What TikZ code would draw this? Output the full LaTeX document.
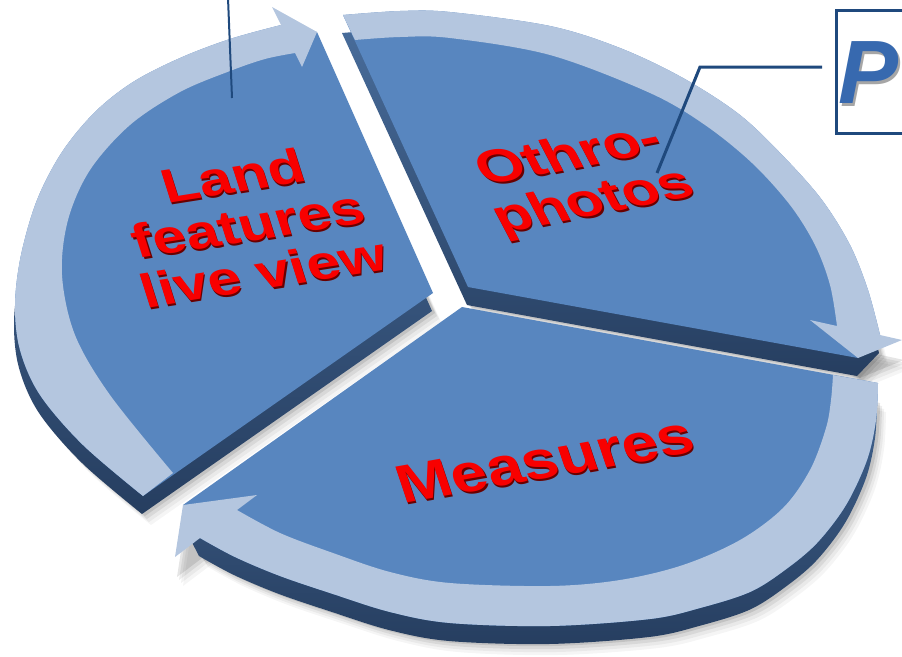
\documentclass[tikz,border=0pt]{standalone}
\usepackage{fontspec}
\newfontfamily\lab{Liberation Sans}
\definecolor{topc}{RGB}{88,134,191}
\definecolor{ringc}{RGB}{180,198,223}
\definecolor{sidetop}{RGB}{72,108,154}
\definecolor{sidebot}{RGB}{38,62,96}
\definecolor{linec}{RGB}{31,73,125}
\definecolor{txtred}{RGB}{248,0,0}
\definecolor{txtsh}{RGB}{105,0,0}
\definecolor{pblue}{RGB}{55,105,175}
% slice shapes (image pixel coordinates, y downwards)
\def\landface{(433,293) -- (143,496) -- plot[smooth,tension=0.55] coordinates {(143,496) (83,445) (40,395) (20,350) (15,305) (21,255) (37,200) (62,152) (95,112) (133,82) (180,58) (230,39) (281,25)} -- (317,32) -- cycle}
\def\landring{(143,496) -- plot[smooth,tension=0.55] coordinates {(143,496) (83,445) (40,395) (20,350) (15,305) (21,255) (37,200) (62,152) (95,112) (133,82) (180,58) (230,39) (281,25)} -- (272,7) -- (317,32) -- (302,67) -- (295,53) -- plot[smooth,tension=0.55] coordinates {(295,53) (265,59) (230,71) (180,92) (130,125) (90,170) (68,220) (62,275) (75,335) (110,395) (173,473)} -- cycle}
\def\othface{(468,287) -- (343,15) -- plot[smooth,tension=0.55] coordinates {(343,15) (400,11) (450,12) (550,26) (620,48) (683,78) (740,115) (785,158) (822,200) (850,245) (868,290) (880,335)} -- (858,358) -- cycle}
\def\othring{(343,15) -- plot[smooth,tension=0.55] coordinates {(343,15) (400,11) (450,12) (550,26) (620,48) (683,78) (740,115) (785,158) (822,200) (850,245) (868,290) (880,335)} -- (902,340) -- (858,358) -- (810,320) -- (837,326) -- plot[smooth,tension=0.55] coordinates {(837,326) (830,285) (815,245) (790,205) (752,163) (705,125) (650,93) (550,55) (450,38) (400,37) (355,40)} -- cycle}
\def\measface{(462,307) -- (878,383) -- plot[smooth,tension=0.55] coordinates {(878,383) (876,420) (867,460) (846,505) (817,543) (785,570) (750,592) (700,608) (650,619) (550,626) (450,623) (390,612) (333,594) (280,576) (235,557) (200,538)} -- (183,505) -- cycle}
\def\measring{(878,383) -- plot[smooth,tension=0.55] coordinates {(878,383) (876,420) (867,460) (846,505) (817,543) (785,570) (750,592) (700,608) (650,619) (550,626) (450,623) (390,612) (333,594) (280,576) (235,557) (200,538)} -- (175,557) -- (183,505) -- (257,495) -- (237,510) -- plot[smooth,tension=0.55] coordinates {(237,510) (280,533) (333,553) (390,572) (450,583) (550,586) (620,580) (683,565) (740,540) (783,508) (810,470) (826,428) (831,400) (833,375)} -- cycle}
\def\othhead{(810,320) -- (902,340) -- (858,358) -- cycle}
\def\meashead{(257,495) -- (183,505) -- (175,557) -- cycle}
\begin{document}
\begin{tikzpicture}[x=1pt,y=-1pt,
  face/.style={fill=topc},
  ringst/.style={fill=ringc},
  sideface/.style={top color=sidetop,bottom color=sidebot,shift={(-1,18)}},
  lbl/.style={font=\lab\bfseries\fontsize{48}{50}\selectfont,text=txtred,align=center,inner sep=0pt},
  lblsh/.style={lbl,text=txtsh},
  callout/.style={draw=linec,line width=3pt},
  thincallout/.style={draw=linec,line width=2pt},
  shadowst/.style={fill=black}]
\useasboundingbox (0,0) rectangle (902,656);
\begin{scope}
\clip (0,0) rectangle (902,656);
% soft shadow
\foreach \dx/\dy/\op in {2/20/0.10,4/23/0.07,6/26/0.05,8/29/0.04}{
  \fill[shadowst,opacity=\op,shift={(\dx,\dy)}] \measface;
  \fill[shadowst,opacity=\op,shift={(\dx,\dy)}] \meashead;
  \fill[shadowst,opacity=\op,shift={(\dx,\dy)}] \landface;
  \fill[shadowst,opacity=\op,shift={(\dx,\dy)}] \othface;
  \fill[shadowst,opacity=\op,shift={(\dx,\dy)}] \othhead;
}
% Measures slice
\path[sideface] \measface;
\fill[face] \measface;
\fill[ringst] \measring;
% Land slice
\path[sideface] \landface;
\fill[face] \landface;
\fill[ringst] \landring;
% Othro slice
\path[sideface] \othface;
\fill[face] \othface;
\fill[ringst] \othring;
% labels (dark relief copy, then red text)
\node[lblsh,rotate=9,xslant=-0.15,xscale=1.25] (landsh) at (249.2,226) {Land\\features\\live view};
\node[lbl,rotate=9,xslant=-0.15,xscale=1.25] (land) at (248,224) {Land\\features\\live view};
\node[lblsh,rotate=11,xslant=-0.3,xscale=1.25] (othsh) at (583.2,182) {Othro-\\photos};
\node[lbl,rotate=11,xslant=-0.3,xscale=1.25] (oth) at (582,180) {Othro-\\photos};
\node[lblsh,rotate=10,xslant=-0.15,xscale=1.2,font=\lab\bfseries\fontsize{54}{56}\selectfont] (meassh) at (546.2,462) {Measures};
\node[lbl,rotate=10,xslant=-0.15,xscale=1.2,font=\lab\bfseries\fontsize{54}{56}\selectfont] (meas) at (545,460) {Measures};
% callouts
\coordinate (v1) at (228,-2);
\coordinate (v2) at (232,98);
\draw[thincallout] (v1) -- (v2);
\node[draw=linec,line width=3pt,fill=white,minimum width=120pt,minimum height=123pt,anchor=north west,inner sep=0pt] (pbox) at (834.5,8.5) {};
\node[anchor=base west,inner sep=0pt,font=\lab\bfseries\itshape\fontsize{90}{90}\selectfont,text=black!35] (psh) at (840.5,106) {P};
\node[anchor=base west,inner sep=0pt,font=\lab\bfseries\itshape\fontsize{90}{90}\selectfont,text=pblue] (ptext) at (838,103) {P};
\coordinate (o1) at (657,173);
\coordinate (o2) at (700,67);
\coordinate (o3) at (822,67);
\draw[callout] (o1) -- (o2) -- (o3);
\end{scope}
\end{tikzpicture}
\end{document}
